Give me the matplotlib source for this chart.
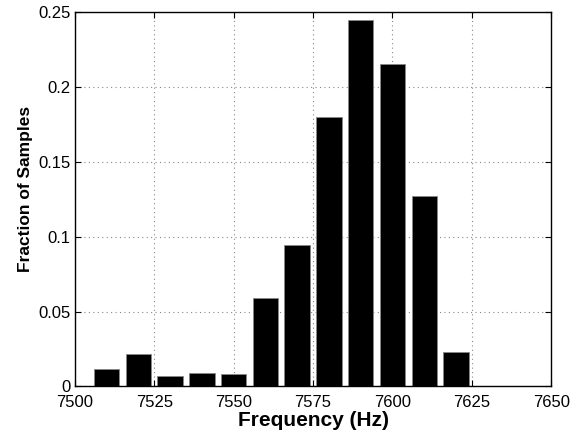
import matplotlib
matplotlib.use("Agg")
import matplotlib.pyplot as plt

freqs = [7510, 7520, 7530, 7540, 7550, 7560, 7570, 7580, 7590, 7600, 7610, 7620, 7630, 7640]
fractions = [0.012, 0.0218, 0.0071, 0.0087, 0.0082, 0.0593, 0.0947, 0.1797, 0.2447, 0.2151, 0.1273, 0.0231, 0.0, 0.0]
xticks = [7500, 7525, 7550, 7575, 7600, 7625, 7650]
yticks = [0, 0.05, 0.1, 0.15, 0.2, 0.25]
ytick_labels = ["0", "0.05", "0.1", "0.15", "0.2", "0.25"]

plt.rcParams['font.family'] = ['Liberation Sans', 'DejaVu Sans']

fig = plt.figure(figsize=(5.76, 4.33), dpi=100)
ax = fig.add_axes([0.130, 0.1074, 0.827, 0.8656])

ax.bar(freqs, fractions, width=8, color='black', edgecolor='#888888', linewidth=0.6, zorder=3)

ax.set_xlim(7500, 7650)
ax.set_ylim(0, 0.25)
ax.set_xticks(xticks)
ax.set_yticks(yticks)
ax.set_yticklabels(ytick_labels)
ax.tick_params(direction='in', labelsize=12, length=4, top=True, right=True)
ax.tick_params(axis='x', pad=6)
ax.tick_params(axis='y', pad=3)
ax.grid(True, linestyle=(0, (1, 3)), color='#888888', linewidth=0.8, zorder=0)
ax.set_axisbelow(True)
for s in ax.spines.values():
    s.set_linewidth(1.0)
    s.set_zorder(5)

ax.set_xlabel('Frequency (Hz)', fontsize=15, fontweight='bold', labelpad=1)
ax.set_ylabel('Fraction of Samples', fontsize=12.5, fontweight='bold')
ax.yaxis.set_label_coords(-0.088, 0.527)

fig.savefig('out.png', dpi=100)
